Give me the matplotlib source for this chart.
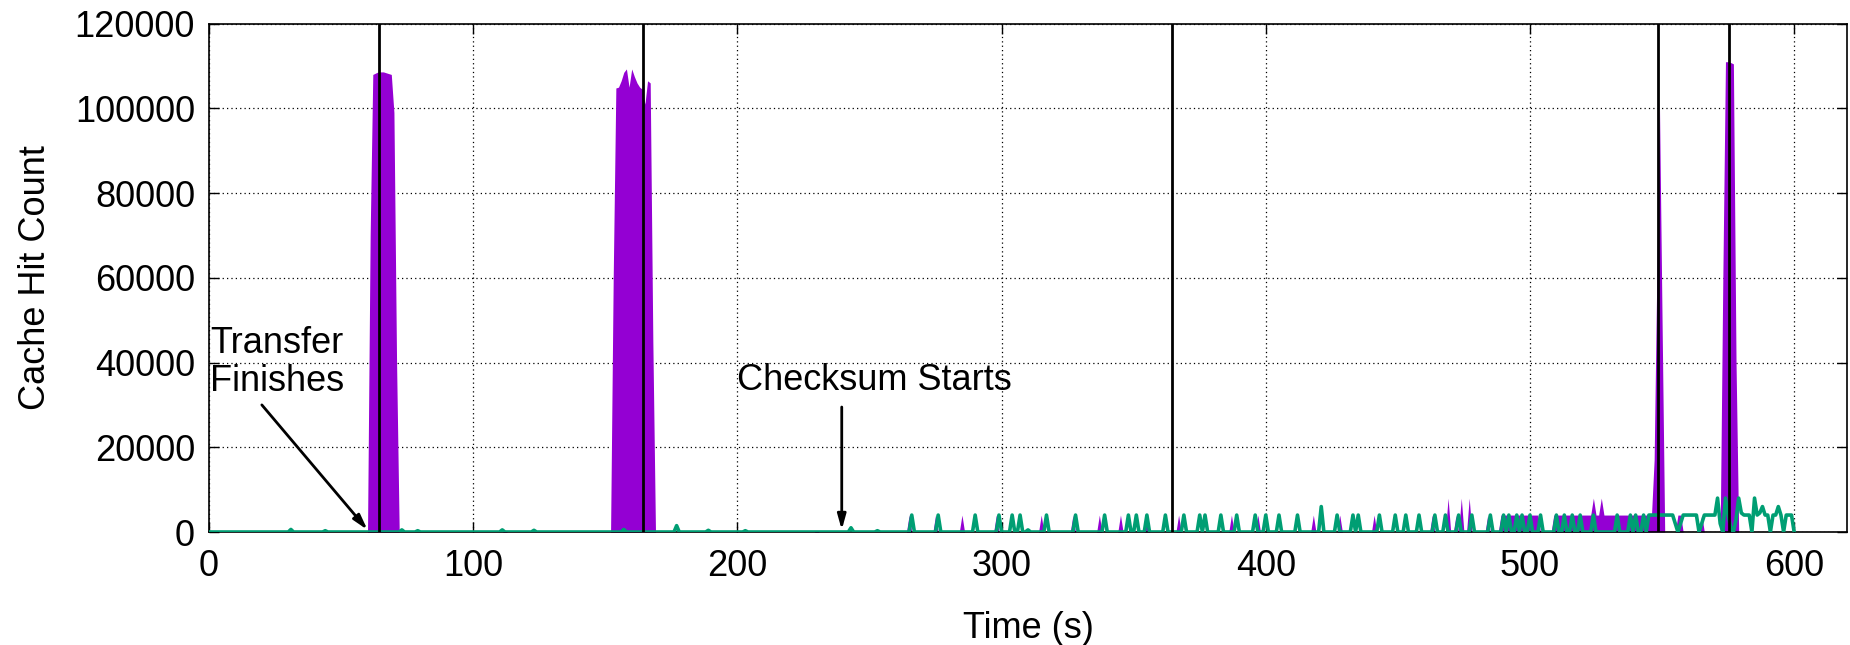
import numpy as np
import matplotlib
matplotlib.use("Agg")
import matplotlib.pyplot as plt

plt.rcParams['font.family'] = ['Liberation Sans', 'DejaVu Sans']

# purple series (filled), nonzero samples only, 1 s resolution
peak1_t = [61, 62, 63, 64, 65, 66, 67, 68, 69, 70, 71]
peak1_v = [70000, 108000, 108300, 108600, 108600, 108600, 108400, 108200, 108000, 99000, 40000]
peak2_t = [153, 154, 155, 156, 157, 158, 159, 160, 161, 162, 163, 164, 165, 166, 167, 168]
peak2_v = [60000, 104800, 105000, 106500, 108500, 109300, 105000, 109300, 107500, 106000,
           105000, 104500, 101000, 106500, 106000, 45000]
peak3_t = [547, 548, 549, 550]
peak3_v = [17000, 60000, 101700, 50000]
peak4_t = [573, 574, 575, 576, 577, 578]
peak4_v = [60000, 111000, 111000, 110800, 110500, 40000]
purple_spike_t = [112, 230, 265, 275, 285, 298, 315, 327, 337, 345, 355, 367, 387, 397, 418,
                  428, 441, 463, 469, 472, 474, 477, 484, 524, 527, 556, 557, 565]
purple_spike_v = [300, 300, 4000, 4000, 4000, 4000, 4000, 4000, 4000, 4000, 4500, 4000, 4000,
                  4000, 4000, 4000, 4000, 4000, 8000, 4000, 8000, 8000, 4000, 8000, 8000,
                  4000, 4000, 4000]
purple_band_t = [489, 490, 491, 492, 493, 494, 495, 496, 497, 498, 499, 500, 501, 502, 503,
                 509, 510, 511, 512, 513, 514, 515, 516, 517, 518, 519, 520, 521, 522, 523,
                 525, 526, 528, 529, 530, 531, 532, 533, 534, 535, 536, 537, 538, 539, 540,
                 541, 542, 543, 544, 545, 546]
purple_band_v = [4000] * len(purple_band_t)

# green series (line)
green_bump_t = [31, 44, 73, 79, 111, 123, 157, 177, 189, 203, 243, 253, 310]
green_bump_v = [600, 300, 500, 300, 500, 400, 600, 1500, 400, 300, 1000, 300, 500]
green_spike_t = [266, 276, 290, 299, 304, 307, 317, 328, 339, 348, 351, 355, 362, 369, 375,
                 377, 383, 389, 396, 400, 405, 412, 421, 427, 433, 435, 443, 449, 453, 458,
                 464, 468, 473, 478, 485, 490, 492, 495, 497, 500, 504, 510, 513, 516, 519,
                 524, 533, 538, 540, 543]
green_spike_v = [4000] * 22 + [6000] + [4000] * 27
green_tail_t = list(range(545, 601))
green_tail_v = [4000, 4000, 4000, 4000, 4000, 4000, 4000, 4000, 4000, 4000, 2000, 0, 2000,
                4000, 4000, 4000, 4000, 4000, 4000, 0, 2000, 4000, 4000, 4000, 4000, 4000,
                8000, 2000, 0, 8000, 4000, 1000, 0, 3000, 8000, 4500, 4000, 4000, 4000, 0,
                8000, 4000, 4500, 6000, 4000, 4000, 0, 4000, 4000, 6000, 4000, 0, 4000, 4000,
                4000, 0]

event_times = [64.3, 164.3, 364.5, 548.6, 575.4]

t = np.arange(0, 601)
purple = np.zeros(len(t))
for tt, vv in [(peak1_t, peak1_v), (peak2_t, peak2_v), (peak3_t, peak3_v), (peak4_t, peak4_v),
               (purple_spike_t, purple_spike_v), (purple_band_t, purple_band_v)]:
    purple[np.array(tt)] = vv
green = np.zeros(len(t))
for tt, vv in [(green_bump_t, green_bump_v), (green_spike_t, green_spike_v),
               (green_tail_t, green_tail_v)]:
    green[np.array(tt)] = vv

fig = plt.figure(figsize=(18.5, 6.45), dpi=100)
ax = fig.add_axes([209 / 1850, 1 - 532 / 645, (1847 - 209) / 1850, (532 - 23.6) / 645])

ax.fill_between(t, 0, purple, color='#9400D3', lw=0, zorder=2)
ax.plot(t, green, color='#009E73', lw=2.6, zorder=3)
for x in event_times:
    ax.axvline(x, color='black', lw=2, zorder=4)

ax.set_xlim(0, 620)
ax.set_ylim(0, 120000)
ax.set_xticks(range(0, 601, 100))
ax.set_yticks(range(0, 120001, 20000))
ax.grid(True, color='black', linestyle=(0, (1, 2.5)), linewidth=0.9)
ax.set_axisbelow(True)
ax.tick_params(direction='in', length=7, width=1, labelsize=26, top=True, right=True, pad=12)
ax.tick_params(axis='y', pad=10)
for s in ax.spines.values():
    s.set_linewidth(1.2)

ax.set_xlabel('Time (s)', fontsize=26, labelpad=20)
ax.set_ylabel('Cache Hit Count', fontsize=26, labelpad=16)

ax.text(0.5, 40000, 'Transfer\nFinishes', fontsize=26, ha='left', va='center', linespacing=1.12)
ax.annotate('', xy=(60, 500), xytext=(20, 30000),
            arrowprops=dict(arrowstyle='-|>,head_length=0.9,head_width=0.25', lw=2,
                            color='black', shrinkA=0, shrinkB=0))
ax.text(200, 35700, 'Checksum Starts', fontsize=26, ha='left', va='center')
ax.annotate('', xy=(239.5, 500), xytext=(239.5, 29500),
            arrowprops=dict(arrowstyle='-|>,head_length=0.9,head_width=0.25', lw=2,
                            color='black', shrinkA=0, shrinkB=0))

fig.savefig('out.png', dpi=100)
